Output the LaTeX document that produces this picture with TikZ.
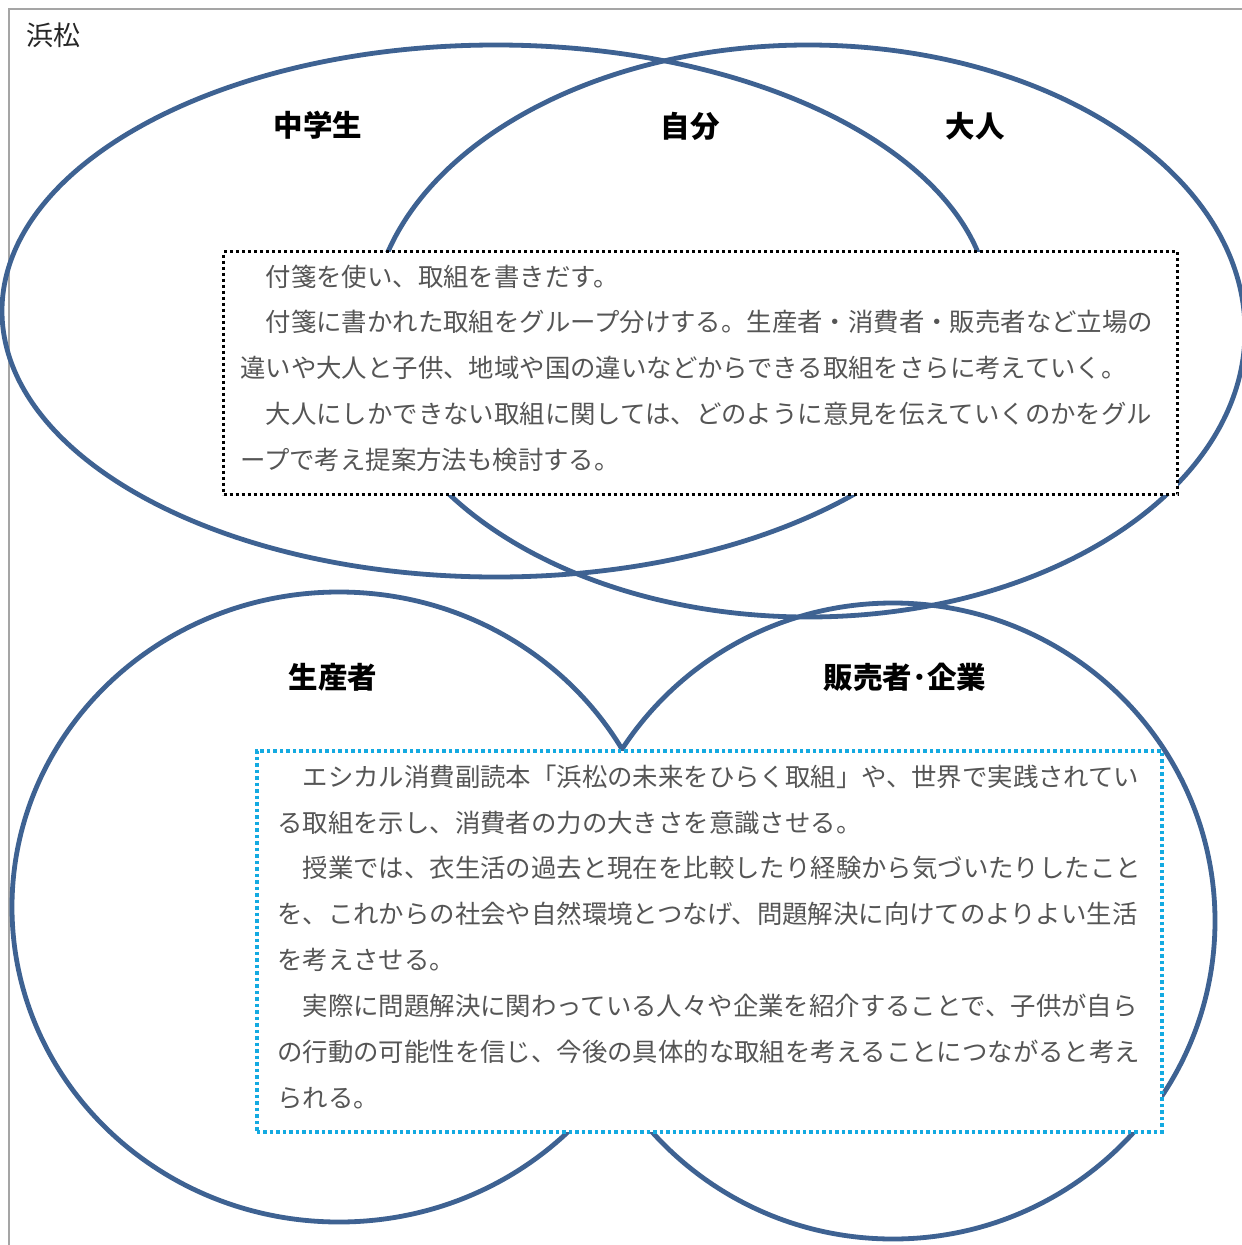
\documentclass[tikz,border=0pt]{standalone}
\usepackage{fontspec}
\newfontfamily\jp{Noto Sans CJK JP}
\definecolor{ringblue}{RGB}{62,98,146}
\definecolor{skydot}{RGB}{20,170,225}
\definecolor{framegray}{RGB}{165,165,165}
\definecolor{bodytext}{RGB}{85,85,85}
\tikzset{
  setring/.style={draw=ringblue, line width=4.8pt},
  blackdots/.style={draw=black, line width=3pt, dash pattern=on 3pt off 3pt, fill=white, inner sep=0pt},
  bluedots/.style={draw=skydot, line width=3.5pt, dash pattern=on 3.5pt off 3pt, fill=white, inner sep=0pt},
  bodyline/.style={anchor=west, inner sep=0pt, text=bodytext, font=\jp\fontsize{25.4}{30}\selectfont},
  setlabel/.style={inner sep=0pt, font=\jp\bfseries\fontsize{29.5}{34}\selectfont},
}
\begin{document}
\begin{tikzpicture}[x=1pt,y=-1pt]
\useasboundingbox (0,0) rectangle (1242,1245);
\fill[white] (0,0) rectangle (1242,1245);
% frame
\draw[framegray, line width=1.5pt] (9,1245) -- (9,9) -- (1242,9);
\node[inner sep=0pt, font=\jp\fontsize{27}{30}\selectfont, text=black!85] (city) at (53,35) {浜松};
% ellipses
\draw[setring] (496,311) ellipse [x radius=494pt, y radius=266pt];
\draw[setring] (808,331) ellipse [x radius=437pt, y radius=286pt];
\draw[setring] (339,907) ellipse [x radius=327pt, y radius=315pt];
\draw[setring] (893,921) ellipse [x radius=322pt, y radius=318pt];
% boxes
\node[blackdots, anchor=north west, minimum width=954pt, minimum height=243pt] (box1) at (222,250) {};
\node[bluedots, anchor=north west, minimum width=905pt, minimum height=381pt] (box2) at (255,749) {};
% labels
\node[setlabel] (junior) at (318,125) {中学生};
\node[setlabel] (self) at (690,126) {自分};
\node[setlabel] (adult) at (975,126) {大人};
\node[setlabel] (producer) at (333,677) {生産者};
\node[setlabel] (seller) at (905,677) {販売者･企業};
% box 1 text
\node[bodyline] (a1) at (240,277) {　付箋を使い、取組を書きだす。};
\node[bodyline] (a2) at (240,322) {　付箋に書かれた取組をグループ分けする。生産者・消費者・販売者など立場の};
\node[bodyline] (a3) at (240,368) {違いや大人と子供、地域や国の違いなどからできる取組をさらに考えていく。};
\node[bodyline] (a4) at (240,414) {　大人にしかできない取組に関しては、どのように意見を伝えていくのかをグル};
\node[bodyline] (a5) at (240,460) {ープで考え提案方法も検討する。};
% box 2 text
\node[bodyline] (b1) at (277,777) {　エシカル消費副読本「浜松の未来をひらく取組」や、世界で実践されてい};
\node[bodyline] (b2) at (277,823) {る取組を示し、消費者の力の大きさを意識させる。};
\node[bodyline] (b3) at (277,868) {　授業では、衣生活の過去と現在を比較したり経験から気づいたりしたこと};
\node[bodyline] (b4) at (277,914) {を、これからの社会や自然環境とつなげ、問題解決に向けてのよりよい生活};
\node[bodyline] (b5) at (277,960) {を考えさせる。};
\node[bodyline] (b6) at (277,1006) {　実際に問題解決に関わっている人々や企業を紹介することで、子供が自ら};
\node[bodyline] (b7) at (277,1052) {の行動の可能性を信じ、今後の具体的な取組を考えることにつながると考え};
\node[bodyline] (b8) at (277,1098) {られる。};
\end{tikzpicture}
\end{document}
